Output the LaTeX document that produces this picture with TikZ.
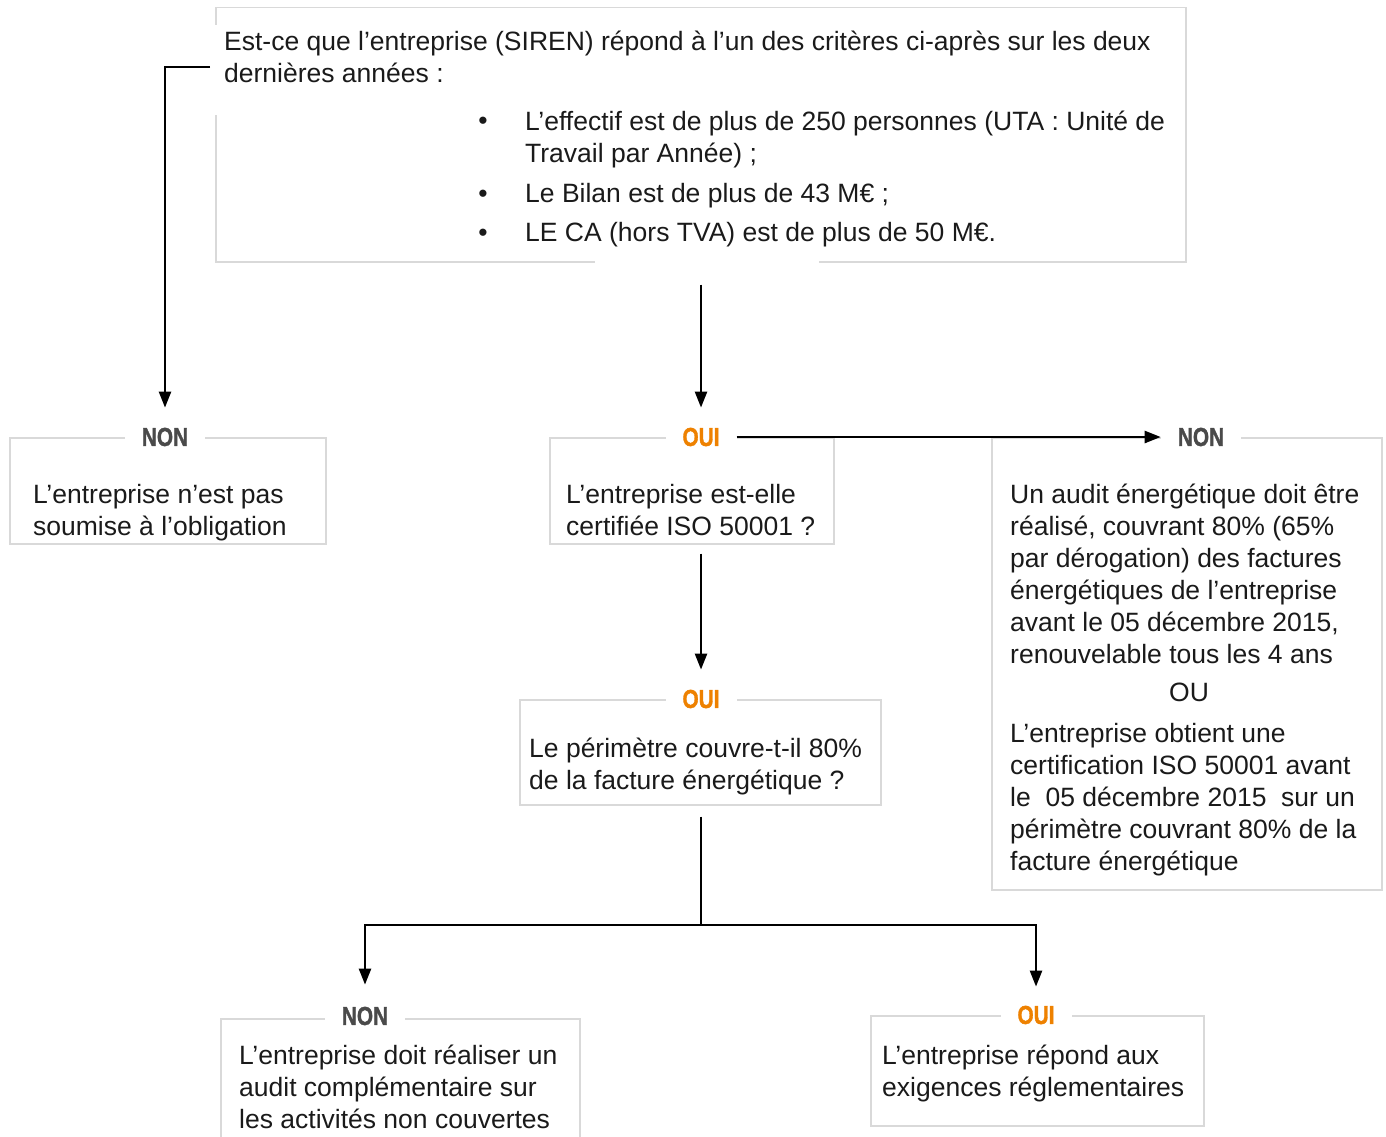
\documentclass[tikz,border=0pt]{standalone}
\usepackage{fontspec}
\usepackage{graphicx}
\setmainfont{Liberation Sans}
\newfontfamily\lblfont[FakeBold=1.5]{Liberation Sans Bold}
\usetikzlibrary{arrows.meta,calc}
\definecolor{bordergray}{HTML}{D9D9D9}
\definecolor{nongray}{HTML}{4A4A4A}
\definecolor{ouiorange}{HTML}{EE8100}
\definecolor{txtcol}{HTML}{1A1A1A}
\newcommand{\lbltxt}[1]{\scalebox{0.8}[1]{\lblfont #1}}
\begin{document}
\begin{tikzpicture}[x=1pt,y=-1pt,
  box/.style={draw=bordergray,line width=1.5pt,inner sep=0pt,anchor=north west},
  txt/.style={font=\fontsize{26.5}{32}\selectfont,text=txtcol,align=left,inner sep=0pt,anchor=base west},
  lbl/.style={font=\fontsize{26}{26}\selectfont,fill=white,inner xsep=17pt,inner ysep=0pt,anchor=center},
  nonlbl/.style={lbl,text=nongray},
  ouilbl/.style={lbl,text=ouiorange},
  conn/.style={line width=2.5pt,black},
  arr/.style={conn,-{Triangle[length=16pt,width=12pt]}}]
\useasboundingbox (0,0) rectangle (1386,1137);
% boxes
\node[box,minimum width=970pt,minimum height=254pt] (topbox) at (215,7) {};
\fill[white] (211,25) rectangle (219,115);
\fill[white] (595,257) rectangle (819,265);
\node[box,minimum width=316pt,minimum height=106pt] (boxA) at (9,437) {};
\node[box,minimum width=284pt,minimum height=106pt] (boxB) at (549,437) {};
\node[box,minimum width=390pt,minimum height=452pt] (boxD) at (991,437) {};
\node[box,minimum width=361pt,minimum height=105pt] (boxC) at (519,699) {};
\node[box,minimum width=359pt,minimum height=140pt] (boxE) at (220,1018) {};
\node[box,minimum width=333pt,minimum height=110pt] (boxF) at (870,1015) {};
% top texts (base anchor = baseline of last line)
\node[txt] (q1) at (224,83) {Est-ce que l’entreprise (SIREN) répond à l’un des critères ci-après sur les deux\\dernières années :};
\node[txt,anchor=base] (bu1) at (483,130) {•};
\node[txt,anchor=base] (bu2) at (483,202) {•};
\node[txt,anchor=base] (bu3) at (483,241) {•};
\node[txt] (it1) at (525,162) {L’effectif est de plus de 250 personnes (UTA : Unité de\\Travail par Année) ;};
\node[txt] (it2) at (525,202) {Le Bilan est de plus de 43 M€ ;};
\node[txt] (it3) at (525,241) {LE CA (hors TVA) est de plus de 50 M€.};
% labels
\node[nonlbl] (nonA) at (165,437) {\lbltxt{NON}};
\node[ouilbl] (ouiA) at (701,437) {\lbltxt{OUI}};
\node[nonlbl] (nonB) at (1201,437) {\lbltxt{NON}};
\node[ouilbl] (ouiB) at (701,699) {\lbltxt{OUI}};
\node[nonlbl] (nonC) at (365,1016) {\lbltxt{NON}};
\node[ouilbl] (ouiC) at (1036,1015) {\lbltxt{OUI}};
% box texts
\node[txt] (tA) at (33,535) {L’entreprise n’est pas\\soumise à l’obligation};
\node[txt] (tB) at (566,535) {L’entreprise est-elle\\certifiée ISO 50001 ?};
\node[txt] (tD1) at (1010,663) {Un audit énergétique doit être\\réalisé, couvrant 80\% (65\%\\par dérogation) des factures\\énergétiques de l’entreprise\\avant le 05 décembre 2015,\\renouvelable tous les 4 ans};
\node[txt,anchor=base] (tDou) at (1189,701) {OU};
\node[txt] (tD2) at (1010,870) {L’entreprise obtient une\\certification ISO 50001 avant\\le~~05 décembre 2015~~sur un\\périmètre couvrant 80\% de la\\facture énergétique};
\node[txt] (tC) at (529,789) {Le périmètre couvre-t-il 80\%\\de la facture énergétique ?};
\node[txt] (tE) at (239,1128) {L’entreprise doit réaliser un\\audit complémentaire sur\\les activités non couvertes};
\node[txt] (tF) at (882,1096) {L’entreprise répond aux\\exigences réglementaires};
% connectors
\coordinate (tl) at (210,67);
\coordinate (split) at (701,925);
\draw[arr,shorten >=20pt] (tl) -| (nonA.north);
\draw[arr,shorten <=22pt,shorten >=20pt] (ouiA |- topbox.south) -- (ouiA.north);
\draw[arr] (ouiA.east) -- (nonB.west);
\draw[arr,shorten <=9pt,shorten >=20pt] (ouiA |- boxB.south) -- (ouiB.north);
\draw[conn,shorten <=11pt] (ouiB |- boxC.south) -- (split);
\draw[arr,shorten >=22pt] (split) -| (nonC.north);
\draw[arr,shorten >=19pt] (split) -| (ouiC.north);
\end{tikzpicture}
\end{document}
